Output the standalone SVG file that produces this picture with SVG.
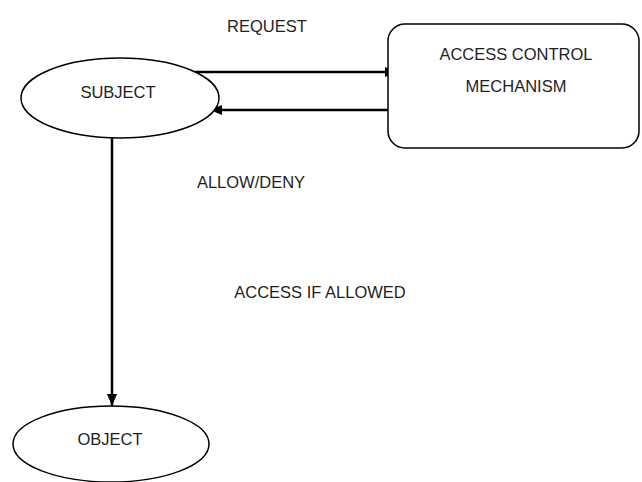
<svg xmlns="http://www.w3.org/2000/svg" width="642" height="482" viewBox="0 0 642 482">
  <defs>
    <marker id="arrow" viewBox="0 0 12 10" refX="12" refY="5" markerWidth="12" markerHeight="10" markerUnits="userSpaceOnUse" orient="auto">
      <path d="M0,0 L12,5 L0,10 Z" fill="#000"/>
    </marker>
    <style>
      .node { fill: #fff; stroke: #000; stroke-width: 1.5; }
      .edge { stroke: #000; stroke-width: 2.5; fill: none; marker-end: url(#arrow); }
      .label { font-family: "Liberation Sans", Arial, sans-serif; font-size: 16.5px; fill: #1e1e1e; text-anchor: middle; }
    </style>
  </defs>
  <rect width="642" height="482" fill="#fff"/>

  <g id="connectors">
    <line class="edge" x1="195" y1="72" x2="397" y2="72"/>
    <line class="edge" x1="388" y1="110" x2="210" y2="110"/>
    <line class="edge" x1="112" y1="138" x2="112" y2="406"/>
  </g>

  <g id="subject">
    <ellipse class="node" cx="120" cy="98" rx="99" ry="40"/>
    <text class="label" x="118" y="98">SUBJECT</text>
  </g>

  <g id="acm">
    <rect class="node" x="388" y="24" width="251" height="124" rx="17" ry="17"/>
    <text class="label" x="516" y="60">ACCESS CONTROL</text>
    <text class="label" x="516" y="92">MECHANISM</text>
  </g>

  <g id="object">
    <ellipse class="node" cx="111" cy="444" rx="98" ry="38"/>
    <text class="label" x="110" y="445">OBJECT</text>
  </g>

  <g id="edge-labels">
    <text class="label" x="267" y="32">REQUEST</text>
    <text class="label" x="251" y="188">ALLOW/DENY</text>
    <text class="label" x="320" y="298">ACCESS IF ALLOWED</text>
  </g>
</svg>
